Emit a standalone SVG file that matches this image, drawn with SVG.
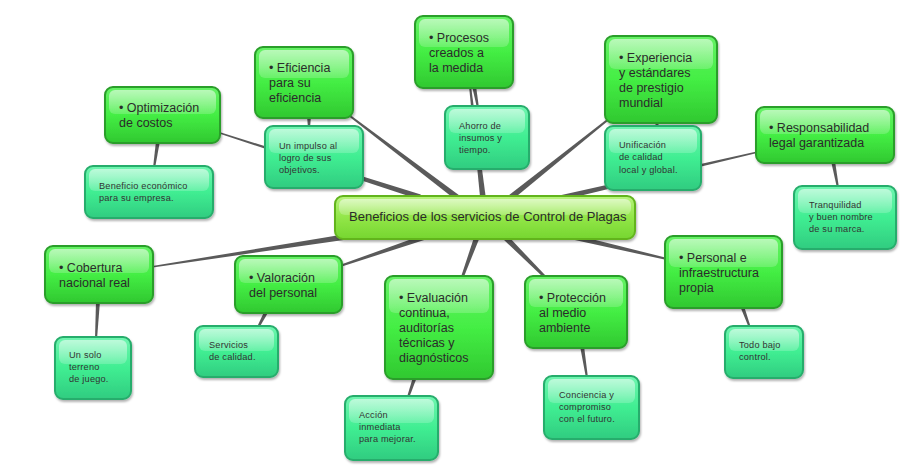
<svg xmlns="http://www.w3.org/2000/svg" width="919" height="476" viewBox="0 0 919 476">
<defs>
<linearGradient id="gMain" x1="0" y1="0" x2="0" y2="1">
<stop offset="0" stop-color="#66f266"/><stop offset="0.5" stop-color="#44ee44"/><stop offset="1" stop-color="#30c830"/>
</linearGradient>
<linearGradient id="gSub" x1="0" y1="0" x2="0" y2="1">
<stop offset="0" stop-color="#70f5b0"/><stop offset="0.5" stop-color="#40ee92"/><stop offset="1" stop-color="#30cc80"/>
</linearGradient>
<linearGradient id="gCen" x1="0" y1="0" x2="0" y2="1">
<stop offset="0" stop-color="#b8f47e"/><stop offset="0.5" stop-color="#92e648"/><stop offset="1" stop-color="#76d630"/>
</linearGradient>
<linearGradient id="gHi" x1="0" y1="0" x2="0" y2="1">
<stop offset="0" stop-color="#ffffff" stop-opacity="0.55"/><stop offset="1" stop-color="#ffffff" stop-opacity="0.18"/>
</linearGradient>
<filter id="sh" x="-10%" y="-10%" width="125%" height="130%">
<feDropShadow dx="1" dy="2" stdDeviation="1.2" flood-color="#000" flood-opacity="0.3"/>
</filter>
</defs>
<style>
.main{fill:url(#gMain);stroke:#2a9e2a;stroke-width:2;filter:url(#sh)}
.sub{fill:url(#gSub);stroke:#27ad6c;stroke-width:2;filter:url(#sh)}
.cen{fill:url(#gCen);stroke:#62b41e;stroke-width:2;filter:url(#sh)}
.hi{fill:url(#gHi)}
.tm{font-family:"Liberation Sans",Arial,sans-serif;font-size:12.5px;fill:#2b2b2b}
.ts{font-family:"Liberation Sans",Arial,sans-serif;font-size:9.2px;fill:#333333;letter-spacing:0.2px}
.tc{font-family:"Liberation Sans",Arial,sans-serif;font-size:13px;fill:#2b2b2b}
.con{fill:#5a5a5a}
</style>
<rect width="919" height="476" fill="#ffffff"/>
<g id="connectors">
<polygon class="con" points="420.8,194.4 220.2,132.3 219.8,133.7 419.2,199.6"/>
<polygon class="con" points="459.8,195.8 350.6,115.2 349.4,116.8 456.2,200.2"/>
<polygon class="con" points="485.8,197.7 471,85.9 469,86.1 480.2,198.3"/>
<polygon class="con" points="511.8,200.2 610.6,118.8 609.4,117.2 508.2,195.8"/>
<polygon class="con" points="560.7,200.6 758.2,152.7 757.8,151.3 559.3,195.4"/>
<polygon class="con" points="344.6,234.3 150.9,266.3 151.1,267.7 345.4,239.7"/>
<polygon class="con" points="424.2,234.4 339.7,265.1 340.3,266.9 425.8,239.6"/>
<polygon class="con" points="474.5,236 460.8,277.6 463.2,278.4 479.5,238"/>
<polygon class="con" points="503,239 545.1,278.9 546.9,277.1 507,235"/>
<polygon class="con" points="572.4,239.6 666.8,260 667.2,258 573.6,234.4"/>
<polygon class="con" points="160,141 155,168 153,168 156,141"/>
<polygon class="con" points="311,116 310,128 308,128 307,116"/>
<polygon class="con" points="476,86 479,108 477,108 472,86"/>
<polygon class="con" points="659,121 658,128 656,128 655,121"/>
<polygon class="con" points="835,161 839,188 837,188 831,161"/>
<polygon class="con" points="100,301 97,339 95,339 96,301"/>
<polygon class="con" points="269,311 259,328 257,327 265,310"/>
<polygon class="con" points="417,377 409,398 407,397 413,377"/>
<polygon class="con" points="584,346 588,378 586,378 580,346"/>
<polygon class="con" points="744,306 751,328 749,328 740,306"/>
</g>
<g id="center">
<rect class="cen" x="335" y="196" width="300" height="43" rx="8"/>
<rect class="hi" x="339" y="199" width="292" height="16" rx="6"/>
<text class="tc" x="349" y="221">Beneficios de los servicios de Control de Plagas</text>
</g>
<g id="n-optimizacion">
<rect class="main" x="105" y="87" width="115" height="56" rx="8"/>
<rect class="hi" x="109" y="90" width="107" height="24" rx="6"/>
<text class="tm" x="119" y="112">• Optimización</text>
<text class="tm" x="119" y="127">de costos</text>
</g>
<g id="s-beneficio">
<rect class="sub" x="85" y="166" width="128" height="52" rx="8"/>
<rect class="hi" x="89" y="169" width="120" height="22" rx="6"/>
<text class="ts" x="99" y="189">Beneficio económico</text>
<text class="ts" x="99" y="201">para su empresa.</text>
</g>
<g id="n-eficiencia">
<rect class="main" x="255" y="47" width="98" height="71" rx="8"/>
<rect class="hi" x="259" y="50" width="90" height="28" rx="6"/>
<text class="tm" x="269" y="72">• Eficiencia</text>
<text class="tm" x="269" y="87">para su</text>
<text class="tm" x="269" y="102">eficiencia</text>
</g>
<g id="s-impulso">
<rect class="sub" x="265" y="126" width="98" height="62" rx="8"/>
<rect class="hi" x="269" y="129" width="90" height="24" rx="6"/>
<text class="ts" x="279" y="149">Un impulso al</text>
<text class="ts" x="279" y="161">logro de sus</text>
<text class="ts" x="279" y="173">objetivos.</text>
</g>
<g id="n-procesos">
<rect class="main" x="415" y="16" width="98" height="72" rx="8"/>
<rect class="hi" x="419" y="19" width="90" height="28" rx="6"/>
<text class="tm" x="429" y="42">• Procesos</text>
<text class="tm" x="429" y="57">creados a</text>
<text class="tm" x="429" y="72">la medida</text>
</g>
<g id="s-ahorro">
<rect class="sub" x="445" y="106" width="84" height="63" rx="8"/>
<rect class="hi" x="449" y="109" width="76" height="24" rx="6"/>
<text class="ts" x="459" y="129">Ahorro de</text>
<text class="ts" x="459" y="141">insumos y</text>
<text class="ts" x="459" y="153">tiempo.</text>
</g>
<g id="n-experiencia">
<rect class="main" x="605" y="36" width="112" height="87" rx="8"/>
<rect class="hi" x="609" y="39" width="104" height="30" rx="6"/>
<text class="tm" x="619" y="62">• Experiencia</text>
<text class="tm" x="619" y="77">y estándares</text>
<text class="tm" x="619" y="92">de prestigio</text>
<text class="tm" x="619" y="107">mundial</text>
</g>
<g id="s-unificacion">
<rect class="sub" x="605" y="126" width="96" height="64" rx="8"/>
<rect class="hi" x="609" y="129" width="88" height="24" rx="6"/>
<text class="ts" x="619" y="148">Unificación</text>
<text class="ts" x="619" y="160">de calidad</text>
<text class="ts" x="619" y="173">local y global.</text>
</g>
<g id="n-responsabilidad">
<rect class="main" x="756" y="107" width="138" height="56" rx="8"/>
<rect class="hi" x="760" y="110" width="130" height="24" rx="6"/>
<text class="tm" x="769" y="132">• Responsabilidad</text>
<text class="tm" x="769" y="147">legal garantizada</text>
</g>
<g id="s-tranquilidad">
<rect class="sub" x="794" y="186" width="102" height="63" rx="8"/>
<rect class="hi" x="798" y="189" width="94" height="24" rx="6"/>
<text class="ts" x="809" y="208">Tranquilidad</text>
<text class="ts" x="809" y="220">y buen nombre</text>
<text class="ts" x="809" y="232">de su marca.</text>
</g>
<g id="n-cobertura">
<rect class="main" x="45" y="246" width="108" height="57" rx="8"/>
<rect class="hi" x="49" y="249" width="100" height="24" rx="6"/>
<text class="tm" x="59" y="272">• Cobertura</text>
<text class="tm" x="59" y="287">nacional real</text>
</g>
<g id="s-terreno">
<rect class="sub" x="55" y="337" width="76" height="62" rx="8"/>
<rect class="hi" x="59" y="340" width="68" height="24" rx="6"/>
<text class="ts" x="69" y="358">Un solo</text>
<text class="ts" x="69" y="370">terreno</text>
<text class="ts" x="69" y="382">de juego.</text>
</g>
<g id="n-valoracion">
<rect class="main" x="235" y="256" width="107" height="57" rx="8"/>
<rect class="hi" x="239" y="259" width="99" height="24" rx="6"/>
<text class="tm" x="249" y="282">• Valoración</text>
<text class="tm" x="249" y="297">del personal</text>
</g>
<g id="s-servicios">
<rect class="sub" x="195" y="326" width="83" height="51" rx="8"/>
<rect class="hi" x="199" y="329" width="75" height="22" rx="6"/>
<text class="ts" x="209" y="348">Servicios</text>
<text class="ts" x="209" y="360">de calidad.</text>
</g>
<g id="n-evaluacion">
<rect class="main" x="385" y="276" width="108" height="103" rx="8"/>
<rect class="hi" x="389" y="279" width="100" height="34" rx="6"/>
<text class="tm" x="399" y="302">• Evaluación</text>
<text class="tm" x="399" y="317">continua,</text>
<text class="tm" x="399" y="332">auditorías</text>
<text class="tm" x="399" y="347">técnicas y</text>
<text class="tm" x="399" y="362">diagnósticos</text>
</g>
<g id="s-accion">
<rect class="sub" x="345" y="396" width="93" height="64" rx="8"/>
<rect class="hi" x="349" y="399" width="85" height="24" rx="6"/>
<text class="ts" x="359" y="418">Acción</text>
<text class="ts" x="359" y="430">inmediata</text>
<text class="ts" x="359" y="442">para mejorar.</text>
</g>
<g id="n-proteccion">
<rect class="main" x="525" y="276" width="102" height="72" rx="8"/>
<rect class="hi" x="529" y="279" width="94" height="28" rx="6"/>
<text class="tm" x="539" y="302">• Protección</text>
<text class="tm" x="539" y="317">al medio</text>
<text class="tm" x="539" y="332">ambiente</text>
</g>
<g id="s-conciencia">
<rect class="sub" x="544" y="376" width="95" height="63" rx="8"/>
<rect class="hi" x="548" y="379" width="87" height="24" rx="6"/>
<text class="ts" x="559" y="398">Conciencia y</text>
<text class="ts" x="559" y="410">compromiso</text>
<text class="ts" x="559" y="422">con el futuro.</text>
</g>
<g id="n-personal">
<rect class="main" x="665" y="236" width="117" height="72" rx="8"/>
<rect class="hi" x="669" y="239" width="109" height="28" rx="6"/>
<text class="tm" x="679" y="262">• Personal e</text>
<text class="tm" x="679" y="277">infraestructura</text>
<text class="tm" x="679" y="292">propia</text>
</g>
<g id="s-control">
<rect class="sub" x="725" y="326" width="78" height="52" rx="8"/>
<rect class="hi" x="729" y="329" width="70" height="22" rx="6"/>
<text class="ts" x="739" y="348">Todo bajo</text>
<text class="ts" x="739" y="360">control.</text>
</g>
</svg>
